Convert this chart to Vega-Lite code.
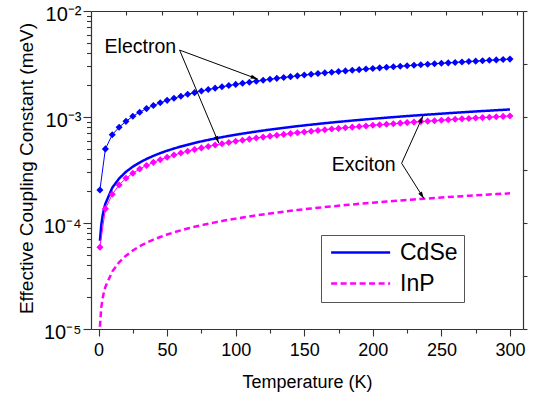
{
  "$schema": "https://vega.github.io/schema/vega-lite/v6.json",
  "width": 432,
  "height": 318,
  "autosize": {"type": "none"},
  "padding": {"left": 91, "top": 11, "right": 17, "bottom": 72},
  "config": {
    "font": "Liberation Sans",
    "view": {"stroke": null},
    "axis": {"grid": false, "domainColor": "#333", "tickColor": "#333", "labelColor": "#000", "titleColor": "#000", "titleFontWeight": "normal", "domainWidth": 1.2, "tickWidth": 1.1, "labelFlush": false, "labelOverlap": false}
  },
  "datasets": {
    "exciton": [
      {"T":1,"CdSe":6.8e-5,"InP":1.05e-5},{"T":2,"CdSe":9.6e-5,"InP":1.6e-5},{"T":3,"CdSe":1.18e-4,"InP":1.95e-5},{"T":4,"CdSe":1.36e-4,"InP":2.25e-5},
      {"T":5,"CdSe":1.52e-4,"InP":2.5e-5},{"T":10,"CdSe":2.15e-4,"InP":3.48e-5},{"T":15,"CdSe":2.63e-4,"InP":4.26e-5},{"T":20,"CdSe":3.04e-4,"InP":4.92e-5},
      {"T":25,"CdSe":3.40e-4,"InP":5.5e-5},{"T":30,"CdSe":3.72e-4,"InP":6.03e-5},{"T":35,"CdSe":4.02e-4,"InP":6.51e-5},{"T":40,"CdSe":4.30e-4,"InP":6.96e-5},
      {"T":45,"CdSe":4.56e-4,"InP":7.38e-5},{"T":50,"CdSe":4.81e-4,"InP":7.78e-5},{"T":55,"CdSe":5.04e-4,"InP":8.16e-5},{"T":60,"CdSe":5.27e-4,"InP":8.52e-5},
      {"T":65,"CdSe":5.48e-4,"InP":8.87e-5},{"T":70,"CdSe":5.69e-4,"InP":9.2e-5},{"T":75,"CdSe":5.89e-4,"InP":9.53e-5},{"T":80,"CdSe":6.08e-4,"InP":9.84e-5},
      {"T":85,"CdSe":6.27e-4,"InP":1.014e-4},{"T":90,"CdSe":6.45e-4,"InP":1.044e-4},{"T":95,"CdSe":6.63e-4,"InP":1.072e-4},{"T":100,"CdSe":6.80e-4,"InP":1.1e-4},
      {"T":105,"CdSe":6.97e-4,"InP":1.127e-4},{"T":110,"CdSe":7.13e-4,"InP":1.154e-4},{"T":115,"CdSe":7.29e-4,"InP":1.18e-4},{"T":120,"CdSe":7.45e-4,"InP":1.205e-4},
      {"T":125,"CdSe":7.60e-4,"InP":1.23e-4},{"T":130,"CdSe":7.75e-4,"InP":1.254e-4},{"T":135,"CdSe":7.90e-4,"InP":1.278e-4},{"T":140,"CdSe":8.05e-4,"InP":1.302e-4},
      {"T":145,"CdSe":8.19e-4,"InP":1.325e-4},{"T":150,"CdSe":8.33e-4,"InP":1.347e-4},{"T":155,"CdSe":8.47e-4,"InP":1.37e-4},{"T":160,"CdSe":8.60e-4,"InP":1.391e-4},
      {"T":165,"CdSe":8.74e-4,"InP":1.413e-4},{"T":170,"CdSe":8.87e-4,"InP":1.434e-4},{"T":175,"CdSe":9.00e-4,"InP":1.455e-4},{"T":180,"CdSe":9.12e-4,"InP":1.476e-4},
      {"T":185,"CdSe":9.25e-4,"InP":1.496e-4},{"T":190,"CdSe":9.37e-4,"InP":1.516e-4},{"T":195,"CdSe":9.50e-4,"InP":1.536e-4},{"T":200,"CdSe":9.62e-4,"InP":1.556e-4},
      {"T":205,"CdSe":9.74e-4,"InP":1.575e-4},{"T":210,"CdSe":9.85e-4,"InP":1.594e-4},{"T":215,"CdSe":9.97e-4,"InP":1.613e-4},{"T":220,"CdSe":1.009e-3,"InP":1.632e-4},
      {"T":225,"CdSe":1.02e-3,"InP":1.65e-4},{"T":230,"CdSe":1.031e-3,"InP":1.668e-4},{"T":235,"CdSe":1.042e-3,"InP":1.686e-4},{"T":240,"CdSe":1.054e-3,"InP":1.704e-4},
      {"T":245,"CdSe":1.064e-3,"InP":1.722e-4},{"T":250,"CdSe":1.075e-3,"InP":1.739e-4},{"T":255,"CdSe":1.086e-3,"InP":1.757e-4},{"T":260,"CdSe":1.097e-3,"InP":1.774e-4},
      {"T":265,"CdSe":1.107e-3,"InP":1.791e-4},{"T":270,"CdSe":1.117e-3,"InP":1.808e-4},{"T":275,"CdSe":1.128e-3,"InP":1.824e-4},{"T":280,"CdSe":1.138e-3,"InP":1.841e-4},
      {"T":285,"CdSe":1.148e-3,"InP":1.857e-4},{"T":290,"CdSe":1.158e-3,"InP":1.873e-4},{"T":295,"CdSe":1.168e-3,"InP":1.889e-4},{"T":300,"CdSe":1.178e-3,"InP":1.905e-4}
    ],
    "electron": [
      {"T":1,"CdSe":2.05e-4,"InP":5.9e-5},{"T":5,"CdSe":5.0e-4,"InP":1.36e-4},{"T":10,"CdSe":6.8e-4,"InP":1.866e-4},{"T":15,"CdSe":8.0e-4,"InP":2.285e-4},
      {"T":20,"CdSe":9.1e-4,"InP":2.639e-4},{"T":25,"CdSe":1.015e-3,"InP":2.95e-4},{"T":30,"CdSe":1.11e-3,"InP":3.232e-4},{"T":35,"CdSe":1.2e-3,"InP":3.491e-4},
      {"T":40,"CdSe":1.284e-3,"InP":3.732e-4},{"T":45,"CdSe":1.362e-3,"InP":3.958e-4},{"T":50,"CdSe":1.435e-3,"InP":4.172e-4},{"T":55,"CdSe":1.505e-3,"InP":4.376e-4},
      {"T":60,"CdSe":1.572e-3,"InP":4.57e-4},{"T":65,"CdSe":1.637e-3,"InP":4.757e-4},{"T":70,"CdSe":1.698e-3,"InP":4.936e-4},{"T":75,"CdSe":1.758e-3,"InP":5.11e-4},
      {"T":80,"CdSe":1.816e-3,"InP":5.277e-4},{"T":85,"CdSe":1.872e-3,"InP":5.44e-4},{"T":90,"CdSe":1.926e-3,"InP":5.597e-4},{"T":95,"CdSe":1.979e-3,"InP":5.751e-4},
      {"T":100,"CdSe":2.03e-3,"InP":5.9e-4},{"T":105,"CdSe":2.08e-3,"InP":6.046e-4},{"T":110,"CdSe":2.129e-3,"InP":6.188e-4},{"T":115,"CdSe":2.177e-3,"InP":6.327e-4},
      {"T":120,"CdSe":2.224e-3,"InP":6.463e-4},{"T":125,"CdSe":2.27e-3,"InP":6.596e-4},{"T":130,"CdSe":2.315e-3,"InP":6.727e-4},{"T":135,"CdSe":2.359e-3,"InP":6.855e-4},
      {"T":140,"CdSe":2.402e-3,"InP":6.981e-4},{"T":145,"CdSe":2.444e-3,"InP":7.105e-4},{"T":150,"CdSe":2.486e-3,"InP":7.226e-4},{"T":155,"CdSe":2.527e-3,"InP":7.346e-4},
      {"T":160,"CdSe":2.568e-3,"InP":7.463e-4},{"T":165,"CdSe":2.608e-3,"InP":7.579e-4},{"T":170,"CdSe":2.647e-3,"InP":7.692e-4},{"T":175,"CdSe":2.685e-3,"InP":7.805e-4},
      {"T":180,"CdSe":2.723e-3,"InP":7.915e-4},{"T":185,"CdSe":2.761e-3,"InP":8.025e-4},{"T":190,"CdSe":2.798e-3,"InP":8.133e-4},{"T":195,"CdSe":2.835e-3,"InP":8.239e-4},
      {"T":200,"CdSe":2.871e-3,"InP":8.344e-4},{"T":205,"CdSe":2.907e-3,"InP":8.448e-4},{"T":210,"CdSe":2.942e-3,"InP":8.55e-4},{"T":215,"CdSe":2.977e-3,"InP":8.651e-4},
      {"T":220,"CdSe":3.011e-3,"InP":8.751e-4},{"T":225,"CdSe":3.045e-3,"InP":8.85e-4},{"T":230,"CdSe":3.079e-3,"InP":8.948e-4},{"T":235,"CdSe":3.112e-3,"InP":9.045e-4},
      {"T":240,"CdSe":3.145e-3,"InP":9.14e-4},{"T":245,"CdSe":3.177e-3,"InP":9.235e-4},{"T":250,"CdSe":3.21e-3,"InP":9.328e-4},{"T":255,"CdSe":3.242e-3,"InP":9.422e-4},
      {"T":260,"CdSe":3.273e-3,"InP":9.514e-4},{"T":265,"CdSe":3.305e-3,"InP":9.605e-4},{"T":270,"CdSe":3.336e-3,"InP":9.695e-4},{"T":275,"CdSe":3.366e-3,"InP":9.784e-4},
      {"T":280,"CdSe":3.397e-3,"InP":9.872e-4},{"T":285,"CdSe":3.427e-3,"InP":9.96e-4},{"T":290,"CdSe":3.457e-3,"InP":1.0047e-3},{"T":295,"CdSe":3.487e-3,"InP":1.0134e-3},
      {"T":300,"CdSe":3.516e-3,"InP":1.0219e-3}
    ],
    "notes": [
      {"label":"Electron","T":4.4,"v":4.53e-3},
      {"label":"Exciton","T":170,"v":3.52e-4}
    ],
    "arrows": [
      {"id":1,"T":59.1,"v":4.28e-3,"T2":116,"v2":2.28e-3},
      {"id":2,"T":59.1,"v":4.28e-3,"T2":87.6,"v2":5.69e-4},
      {"id":3,"T":221,"v":3.66e-4,"T2":236.5,"v2":1.02e-3},
      {"id":4,"T":221,"v":3.66e-4,"T2":237.2,"v2":1.70e-4}
    ]
  },
  "encoding": {
    "x": {"field":"T","type":"quantitative","scale":{"domain":[-5.5,309.5],"nice":false,"zero":false},"axis":null},
    "y": {"field":"v","type":"quantitative","scale":{"type":"log","domain":[1e-5,1e-2],"nice":false},"axis":null}
  },
  "layer": [
    {
      "data": {"name":"notes"},
      "mark": {"type":"point","opacity":0},
      "encoding": {
        "x": {"field":"T","type":"quantitative","scale":{"domain":[-5.5,309.5],"nice":false,"zero":false},
              "axis":{"orient":"top","title":null,"labels":false,"tickSize":-4,"values":[20.2,46.12,72.04,97.96,123.88,149.8,175.72,201.64,227.56,253.48,279.4,305.32]}},
        "y": {"field":"v","type":"quantitative","scale":{"type":"log","domain":[1e-5,1e-2],"nice":false},
              "axis":{"orient":"right","title":null,"labels":false,"tickSize":4,"values":[0.01,0.0031623,0.001,0.00031623,0.0001,0.000031623,0.00001]}}
      }
    },
    {
      "data": {"name":"exciton"},
      "transform": [{"fold":["CdSe","InP"],"as":["material","v"]}],
      "mark": {"type":"line","strokeWidth":2.5},
      "encoding": {
        "x": {"field":"T","type":"quantitative","scale":{"domain":[-5.5,309.5],"nice":false,"zero":false},
              "axis":{"orient":"bottom","title":"Temperature (K)","values":[0,25,50,75,100,125,150,175,200,225,250,275,300],"format":"d",
                      "labelExpr":"datum.value % 50 === 0 ? datum.label : ''",
                      "tickSize":{"condition":{"test":"datum.value % 50 === 0","value":7},"value":4},
                      "labelFontSize":18,"titleFontSize":18,"labelPadding":5,"titleY":58,"titleBaseline":"alphabetic"}},
        "y": {"field":"v","type":"quantitative","scale":{"type":"log","domain":[1e-5,1e-2],"nice":false},
              "axis":{"orient":"left","title":"Effective Coupling Constant (meV)",
                      "values":[1e-5,2e-5,3e-5,4e-5,5e-5,6e-5,7e-5,8e-5,9e-5,1e-4,2e-4,3e-4,4e-4,5e-4,6e-4,7e-4,8e-4,9e-4,1e-3,2e-3,3e-3,4e-3,5e-3,6e-3,7e-3,8e-3,9e-3,1e-2],
                      "labelExpr":"datum.value == 0.01 ? '10\u207b\u00b2' : datum.value == 0.001 ? '10\u207b\u00b3' : datum.value == 0.0001 ? '10\u207b\u2074' : datum.value == 0.00001 ? '10\u207b\u2075' : ''",
                      "tickSize":{"condition":{"test":"datum.value == 0.01 || datum.value == 0.001 || datum.value == 0.0001 || datum.value == 0.00001","value":8},"value":4.5},
                      "labelFontSize":20,"labelPadding":2,"labelOffset":3,"titleFontSize":19,"titleX":-59,"titleY":157,"titleBaseline":"alphabetic"}},
        "color": {"field":"material","type":"nominal","scale":{"domain":["CdSe","InP"],"range":["#0000ff","#ff00ff"]},
                  "legend":{"orient":"none","legendX":230,"legendY":224,"title":null,"symbolType":"M-1,0H7","symbolSize":217.6,"symbolStrokeWidth":2.5,"labelFontSize":23,"fillColor":"#ffffff","strokeColor":"#555555","padding":6,"rowPadding":7,"labelOffset":50,"labelLimit":0}},
        "strokeDash": {"field":"material","type":"nominal","scale":{"domain":["CdSe","InP"],"range":[[1,0],[6,3.5]]},
                  "legend":{"orient":"none","legendX":230,"legendY":224,"title":null,"symbolType":"M-1,0H7","symbolSize":217.6,"symbolStrokeWidth":2.5,"labelFontSize":23,"fillColor":"#ffffff","strokeColor":"#555555","padding":6,"rowPadding":7,"labelOffset":50,"labelLimit":0}}
      }
    },
    {
      "data": {"name":"electron"},
      "transform": [{"fold":["CdSe","InP"],"as":["material","v"]}],
      "mark": {"type":"line","strokeWidth":1},
      "encoding": {
        "color": {"field":"material","type":"nominal","scale":{"domain":["CdSe","InP"],"range":["#0000ff","#ff00ff"]},"legend":null}
      }
    },
    {
      "data": {"name":"electron"},
      "transform": [{"fold":["CdSe","InP"],"as":["material","v"]}],
      "mark": {"type":"point","shape":"diamond","filled":true,"size":50,"opacity":1},
      "encoding": {
        "color": {"field":"material","type":"nominal","scale":{"domain":["CdSe","InP"],"range":["#0000ff","#ff00ff"]},"legend":null}
      }
    },
    {
      "data": {"name":"arrows"},
      "mark": {"type":"rule","color":"#000","strokeWidth":1},
      "encoding": {"x2":{"field":"T2"},"y2":{"field":"v2"}}
    },
    {
      "data": {"name":"arrows"},
      "transform": [{"filter":"datum.id == 1"}],
      "mark": {"type":"point","shape":"M0,0L-1,-0.3L-1,0.3Z","size":196,"angle":20.4,"filled":true,"color":"#000","opacity":1,"strokeWidth":0},
      "encoding": {
        "x": {"field":"T2","type":"quantitative","scale":{"domain":[-5.5,309.5],"nice":false,"zero":false},"axis":null},
        "y": {"field":"v2","type":"quantitative","scale":{"type":"log","domain":[1e-5,1e-2],"nice":false},"axis":null}
      }
    },
    {
      "data": {"name":"arrows"},
      "transform": [{"filter":"datum.id == 2"}],
      "mark": {"type":"point","shape":"M0,0L-1,-0.3L-1,0.3Z","size":196,"angle":67.2,"filled":true,"color":"#000","opacity":1,"strokeWidth":0},
      "encoding": {
        "x": {"field":"T2","type":"quantitative","scale":{"domain":[-5.5,309.5],"nice":false,"zero":false},"axis":null},
        "y": {"field":"v2","type":"quantitative","scale":{"type":"log","domain":[1e-5,1e-2],"nice":false},"axis":null}
      }
    },
    {
      "data": {"name":"arrows"},
      "transform": [{"filter":"datum.id == 3"}],
      "mark": {"type":"point","shape":"M0,0L-1,-0.3L-1,0.3Z","size":196,"angle":-65.8,"filled":true,"color":"#000","opacity":1,"strokeWidth":0},
      "encoding": {
        "x": {"field":"T2","type":"quantitative","scale":{"domain":[-5.5,309.5],"nice":false,"zero":false},"axis":null},
        "y": {"field":"v2","type":"quantitative","scale":{"type":"log","domain":[1e-5,1e-2],"nice":false},"axis":null}
      }
    },
    {
      "data": {"name":"arrows"},
      "transform": [{"filter":"datum.id == 4"}],
      "mark": {"type":"point","shape":"M0,0L-1,-0.3L-1,0.3Z","size":196,"angle":57.6,"filled":true,"color":"#000","opacity":1,"strokeWidth":0},
      "encoding": {
        "x": {"field":"T2","type":"quantitative","scale":{"domain":[-5.5,309.5],"nice":false,"zero":false},"axis":null},
        "y": {"field":"v2","type":"quantitative","scale":{"type":"log","domain":[1e-5,1e-2],"nice":false},"axis":null}
      }
    },
    {
      "data": {"name":"notes"},
      "mark": {"type":"text","align":"left","baseline":"middle","fontSize":19.5,"color":"#000"},
      "encoding": {"text":{"field":"label"}}
    }
  ],
  "resolve": {"axis": {"x": "independent", "y": "independent"}}
}
